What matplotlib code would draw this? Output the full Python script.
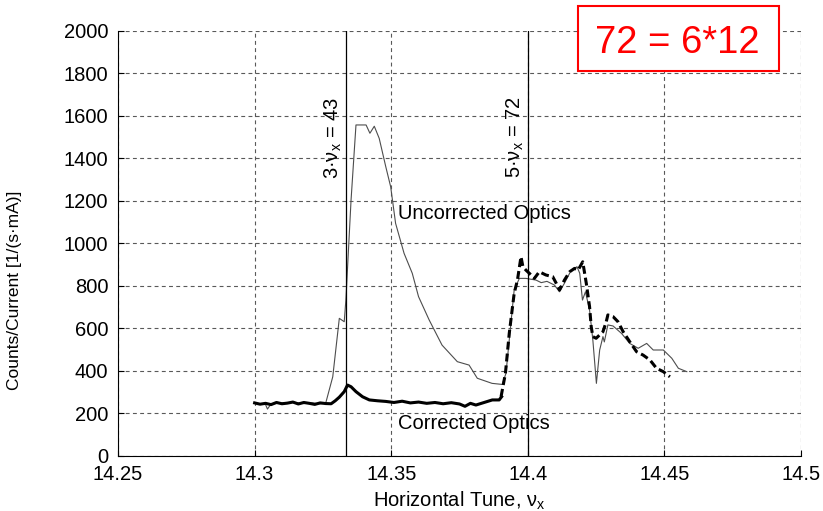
import numpy as np
import matplotlib
matplotlib.use("Agg")
import matplotlib.pyplot as plt
from matplotlib.patches import Rectangle

plt.rcParams['font.family'] = ['Liberation Sans', 'DejaVu Sans']
plt.rcParams['mathtext.fontset'] = 'custom'
plt.rcParams['mathtext.rm'] = 'Liberation Sans'

# Uncorrected optics (thin line)
tune_unc = [14.300, 14.302, 14.304, 14.3047, 14.306, 14.309, 14.312, 14.315, 14.318,
            14.321, 14.324, 14.326, 14.3286, 14.331, 14.3328, 14.3334, 14.3353, 14.3371,
            14.3408, 14.3422, 14.3438, 14.3456, 14.348, 14.3498, 14.3516, 14.3547,
            14.3577, 14.360, 14.3639, 14.3686, 14.3742, 14.3785, 14.3815, 14.3869,
            14.3906, 14.392, 14.395, 14.3969, 14.3993, 14.403, 14.4049, 14.407, 14.4097,
            14.4116, 14.4134, 14.4159, 14.418, 14.419, 14.420, 14.4211, 14.4226, 14.4238,
            14.4251, 14.4263, 14.4275, 14.428, 14.4293, 14.4312, 14.4343, 14.4373,
            14.4404, 14.4435, 14.4459, 14.4496, 14.4527, 14.4551, 14.4582]
counts_unc = [246, 244, 240, 219, 243, 247, 249, 250, 245,
              248, 244, 246, 371, 646, 630, 732, 1203, 1556,
              1556, 1517, 1550, 1493, 1360, 1265, 1093, 952,
              858, 748, 638, 520, 442, 426, 364, 340,
              335, 387, 779, 834, 834, 826, 814, 820, 803,
              771, 811, 873, 889, 858, 732, 771, 685, 544,
              340, 497, 560, 535, 615, 610, 575, 528,
              505, 528, 497, 497, 458, 411, 395]

# Corrected optics, solid part below 5nu_x = 72
tune_cor = [14.300, 14.302, 14.304, 14.306, 14.308, 14.310, 14.312, 14.314, 14.316,
            14.318, 14.320, 14.322, 14.324, 14.326, 14.328, 14.3295, 14.331, 14.3328,
            14.3340, 14.3353, 14.3371, 14.3395, 14.342, 14.345, 14.348, 14.351, 14.354,
            14.357, 14.360, 14.363, 14.366, 14.369, 14.372, 14.375, 14.377, 14.379,
            14.381, 14.384, 14.387, 14.3895, 14.3904]
counts_cor = [248, 242, 246, 240, 250, 244, 247, 252, 243,
              250, 246, 241, 248, 245, 244, 258, 275, 301,
              332, 324, 301, 277, 262, 258, 255, 250, 256,
              248, 252, 246, 250, 244, 249, 243, 232, 246,
              238, 250, 262, 262, 277]

# Corrected optics, dashed part
tune_cor2 = [14.3902, 14.3918, 14.3932, 14.395, 14.3962, 14.3975, 14.3982, 14.3993,
             14.4012, 14.4024, 14.4042, 14.4066, 14.4091, 14.4104, 14.4116, 14.4134,
             14.4153, 14.4171, 14.4184, 14.4201, 14.4214, 14.4226, 14.4232, 14.4238,
             14.425, 14.4275, 14.4287, 14.4293, 14.4312, 14.433, 14.4349, 14.4373,
             14.4398, 14.4422, 14.4447, 14.4471, 14.4496, 14.452]
counts_cor2 = [277, 387, 575, 763, 826, 936, 889, 873,
               850, 834, 865, 850, 842, 811, 779, 826,
               865, 881, 873, 912, 811, 701, 607, 560,
               552, 583, 630, 662, 654, 630, 583, 536,
               489, 473, 450, 411, 395, 371]

resonances = [43 / 3, 72 / 5]
res_labels = ['3·ν$_\\mathregular{x}$ = 43', '5·ν$_\\mathregular{x}$ = 72']

fig = plt.figure(figsize=(8.23, 5.11), dpi=100)
ax = fig.add_axes([0.1434, 0.1084, 0.8299, 0.8317])

ax.plot(tune_unc, counts_unc, color='0.3', lw=0.8)
ax.plot(tune_cor, counts_cor, color='black', lw=2.2)
ax.plot(tune_cor2, counts_cor2, color='black', lw=2.2, linestyle=(0, (2.6, 1.3)))

for r, lab in zip(resonances, res_labels):
    ax.axvline(r, color='black', lw=0.9)
    ax.text(r - 0.0008, 1690, lab, rotation=90, ha='right', va='top', fontsize=14.5)

ax.text(14.3525, 1141, 'Uncorrected Optics', fontsize=14.5, va='center')
ax.text(14.3525, 150, 'Corrected Optics', fontsize=14.5, va='center')

ax.set_xlim(14.25, 14.5)
ax.set_ylim(0, 2000)
ax.set_xticks([14.25, 14.3, 14.35, 14.4, 14.45, 14.5])
ax.set_xticklabels(['14.25', '14.3', '14.35', '14.4', '14.45', '14.5'])
ax.set_yticks(np.arange(0, 2001, 200))
ax.grid(True, color='0.35', lw=0.8, linestyle=(0, (3.5, 3)))
ax.tick_params(direction='in', length=4, labelsize=14.5, pad=7)
for s in ['top', 'right']:
    ax.spines[s].set_visible(False)

ax.set_xlabel('Horizontal Tune, ν$_\\mathregular{x}$', fontsize=14.5, labelpad=4)
ax.set_ylabel('Counts/Current [1/(s·mA)]', fontsize=12.5)
ax.yaxis.set_label_coords(-0.14, 0.39)

# red annotation box
fig.patches.append(Rectangle((0.7023, 0.861), 0.2443, 0.127, transform=fig.transFigure,
                             facecolor='white', edgecolor='red', lw=1.5, zorder=5))
fig.text(0.8232, 0.8963, '72 = 6*12', color='red', fontsize=27.5, ha='center',
         va='baseline', zorder=6)

fig.savefig('out.png', dpi=100)
